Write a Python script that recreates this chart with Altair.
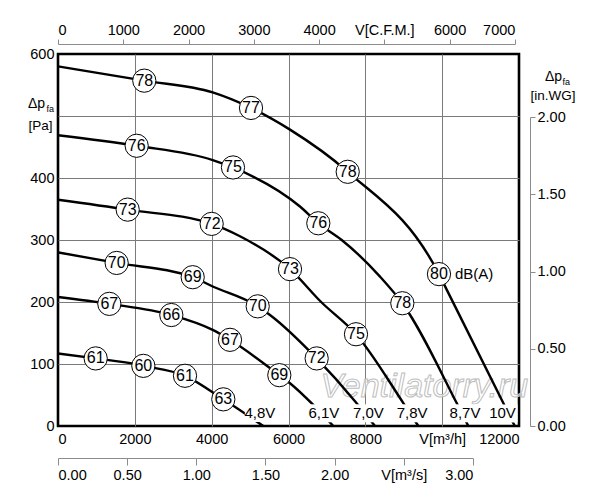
import altair as alt
import pandas as pd

FONT = "Liberation Sans"
W, H = 461, 372

# ---- fan curves: flow Q [m3/h], static pressure P [Pa] ----
curve_names = ["4,8V", "6,1V", "7,0V", "7,8V", "8,7V", "10V"]
q_48 = [0, 981, 2022, 2221, 3306, 4303, 5345]
p_48 = [117, 109, 99.6, 97, 81, 43, 0]
q_61 = [0, 1336, 2950, 4027, 4477, 5761, 6039, 6646, 7166]
p_61 = [208, 197, 179, 155, 139, 82, 69, 34, 0]
q_70 = [0, 1527, 3506, 4027, 5198, 5518, 6733, 7731, 8251]
p_70 = [280, 263, 240, 225, 193, 179, 109, 40, 0]
q_78 = [0, 1814, 4000, 4737, 6039, 6850, 7757, 8989, 9379]
p_78 = [365, 349, 326, 306, 253, 200, 148, 37, 0]
q_87 = [0, 2048, 4027, 4555, 6299, 6776, 7385, 8382, 8963, 10378, 10680]
p_87 = [469, 452, 429, 417, 354, 327, 300, 241, 198, 37, 0]
q_10 = [0, 2246, 4027, 5024, 6039, 7541, 9917, 10118, 11591, 11890]
p_10 = [580, 557, 538, 513, 478, 410, 245, 220, 37, 0]

# ---- sound level markers dB(A) ----
db_q = [981, 2221, 3306, 4303,
        1336, 2950, 4477, 5761,
        1527, 3506, 5198, 6733,
        1814, 4000, 6039, 7757,
        2048, 4555, 6776, 8963,
        2246, 5024, 7541, 9917]
db_p = [109, 97, 81, 43,
        197, 179, 139, 82,
        263, 240, 193, 109,
        349, 326, 253, 148,
        452, 417, 327, 198,
        557, 513, 410, 245]
db_val = ["61", "60", "61", "63",
          "67", "66", "67", "69",
          "70", "69", "70", "72",
          "73", "72", "73", "75",
          "76", "75", "76", "78",
          "78", "77", "78", "80"]

# ---- voltage labels ----
volt_q = [5254, 6919, 8078, 9219, 10594, 11570]
volt_p = [21, 20.5, 20.5, 20.5, 20.5, 20.2]

unit_text = ["dB(A)"]
unit_q = [10334]
unit_p = [245]

wm_text = ["Ventilatorry.ru"]
wm_q = [9535]
wm_p = [63]

# ---- axis ticks ----
m3h_ticks = [0, 2000, 4000, 6000, 8000, 10000, 12000]
pa_ticks = [0, 100, 200, 300, 400, 500, 600]
cfm_ticks = [0, 1000, 2000, 3000, 4000, 5000, 6000, 7000]
m3s_ticks = [0, 0.5, 1.0, 1.5, 2.0, 2.5, 3.0]
inwg_ticks = [0, 0.5, 1.0, 1.5, 2.0]

# ---- tables ----
rows = []
for name, qs, ps in zip(curve_names, [q_48, q_61, q_70, q_78, q_87, q_10],
                        [p_48, p_61, p_70, p_78, p_87, p_10]):
    for q, p in zip(qs, ps):
        rows.append({"curve": name, "Q": q, "P": p})
curves_df = pd.DataFrame(rows)
db_df = pd.DataFrame({"Q": db_q, "P": db_p, "t": db_val})
volt_df = pd.DataFrame({"Q": volt_q, "P": volt_p, "t": curve_names})
unit_df = pd.DataFrame({"Q": unit_q, "P": unit_p, "t": unit_text})
wm_df = pd.DataFrame({"Q": wm_q, "P": wm_p, "t": wm_text})

GRID = "#7a7a7a"
AX2 = "#8c8c8c"

X = alt.X("Q:Q",
          scale=alt.Scale(domain=[0, 12000], nice=False, zero=False),
          axis=alt.Axis(orient="bottom", values=m3h_ticks, format="d",
                        labelExpr="datum.value == 10000 ? 'V[m³/h]' : datum.label",
                        grid=True, gridColor=GRID, gridWidth=1,
                        gridOpacity={"condition": {"test": "datum.value == 0 || datum.value == 12000", "value": 0}, "value": 1},
                        domain=False, ticks=False, labelPadding=6, title=None))
Y = alt.Y("P:Q",
          scale=alt.Scale(domain=[0, 600], nice=False, zero=False),
          axis=alt.Axis(orient="left", values=pa_ticks, format="d",
                        labelExpr="datum.value == 500 ? '' : datum.label",
                        grid=True, gridColor=GRID, gridWidth=1,
                        gridOpacity={"condition": {"test": "datum.value == 0 || datum.value == 600", "value": 0}, "value": 1},
                        domain=False, ticks=False, labelPadding=4,
                        title="[Pa]", titleAngle=0, titleAlign="left",
                        titleBaseline="alphabetic", titleX=-30, titleY=75,
                        titleFontSize=13.5))

watermark = alt.Chart(wm_df).mark_text(
    font=FONT, fontSize=34, fontStyle="italic", fill="white", fillOpacity=0.6,
    stroke="#bdbdbd", strokeWidth=1, align="center", baseline="middle"
).encode(x=X, y=Y, text="t:N")

lines = alt.Chart(curves_df).mark_line(
    color="black", strokeWidth=2.4, interpolate="monotone"
).encode(x=X, y=Y, detail="curve:N")

circles = alt.Chart(db_df).mark_point(
    shape="circle", filled=True, fill="white", stroke="black",
    strokeWidth=1, size=540, opacity=1
).encode(x=X, y=Y)

circle_text = alt.Chart(db_df).mark_text(
    font=FONT, fontSize=16, color="black", align="center", baseline="middle"
).encode(x=X, y=Y, text="t:N")

volt_bg = alt.Chart(volt_df).mark_point(
    shape="M-1,-0.6L1,-0.6L1,0.6L-1,0.6Z", filled=True, fill="white",
    strokeWidth=0, size=900, opacity=1
).encode(x=X, y=Y)

volt_text = alt.Chart(volt_df).mark_text(
    font=FONT, fontSize=15, color="black", align="center", baseline="middle"
).encode(x=X, y=Y, text="t:N")

unit_label = alt.Chart(unit_df).mark_text(
    font=FONT, fontSize=15, color="black", align="left", baseline="middle"
).encode(x=X, y=Y, text="t:N")

title_df_l = pd.DataFrame({"t": ["Δp"]})
title_df_s = pd.DataFrame({"t": ["fa"]})
left_dp = alt.Chart(title_df_l).mark_text(
    font=FONT, fontSize=14, color="black", align="left", baseline="alphabetic"
).encode(x=alt.value(-30), y=alt.value(54), text="t:N")
left_fa = alt.Chart(title_df_s).mark_text(
    font=FONT, fontSize=9, color="black", align="left", baseline="alphabetic"
).encode(x=alt.value(-11.5), y=alt.value(58), text="t:N")
right_dp = alt.Chart(title_df_l).mark_text(
    font=FONT, fontSize=14, color="black", align="left", baseline="alphabetic"
).encode(x=alt.value(487), y=alt.value(27), text="t:N")
right_fa = alt.Chart(title_df_s).mark_text(
    font=FONT, fontSize=9, color="black", align="left", baseline="alphabetic"
).encode(x=alt.value(504.5), y=alt.value(31), text="t:N")

main = alt.layer(watermark, lines, circles, circle_text, volt_bg, volt_text,
                 unit_label, left_dp, left_fa, right_dp, right_fa)

cfm_layer = alt.Chart(pd.DataFrame({"v": cfm_ticks})).mark_point(opacity=0).encode(
    x=alt.X("v:Q",
            scale=alt.Scale(domain=[0, 7000], range=[0, W * 7000 * 1.699 / 12000],
                            nice=False, zero=False),
            axis=alt.Axis(orient="top", values=cfm_ticks, format="d",
                          labelExpr="datum.value == 5000 ? 'V[C.F.M.]' : datum.label",
                          offset=10, tickSize=5, tickColor=AX2, domainColor=AX2,
                          domainWidth=1, labelPadding=2, grid=False, title=None))
)

m3s_layer = alt.Chart(pd.DataFrame({"v": m3s_ticks})).mark_point(opacity=0).encode(
    x=alt.X("v:Q",
            scale=alt.Scale(domain=[0, 3], range=[0, W * 10800 / 12000],
                            nice=False, zero=False),
            axis=alt.Axis(orient="bottom", values=m3s_ticks, format=".2f",
                          labelExpr="datum.value == 2.5 ? 'V[m³/s]' : datum.label",
                          offset=32, tickSize=7, tickColor=AX2, domainColor=AX2,
                          domainWidth=1, labelPadding=3, grid=False, title=None))
)

inwg_layer = alt.Chart(pd.DataFrame({"v": inwg_ticks})).mark_point(opacity=0).encode(
    y=alt.Y("v:Q",
            scale=alt.Scale(domain=[0, 2], range=[H, H - H * 2 * 249.089 / 600],
                            nice=False, zero=False),
            axis=alt.Axis(orient="right", values=inwg_ticks, format=".2f",
                          offset=11, tickSize=5, tickColor=AX2, domainColor=AX2,
                          domainWidth=1, labelPadding=2, grid=False,
                          title="[in.WG]", titleAngle=0, titleAlign="center",
                          titleBaseline="alphabetic", titleX=22.5, titleY=45,
                          titleFontSize=13.5))
)

chart = alt.layer(main, cfm_layer, m3s_layer, inwg_layer).resolve_scale(
    x="independent", y="independent"
).properties(
    width=W, height=H,
    autosize=alt.AutoSizeParams(type="none"),
    padding={"left": 50, "top": 46, "right": 73, "bottom": 66},
    background="white",
).configure_view(
    stroke="black", strokeWidth=2.6
).configure_axis(
    labelFont=FONT, labelFontSize=14.5, labelColor="black",
    titleFont=FONT, titleFontWeight="normal", titleColor="black"
)

chart.save("out.html", embed_options={"renderer": "svg", "actions": False})
